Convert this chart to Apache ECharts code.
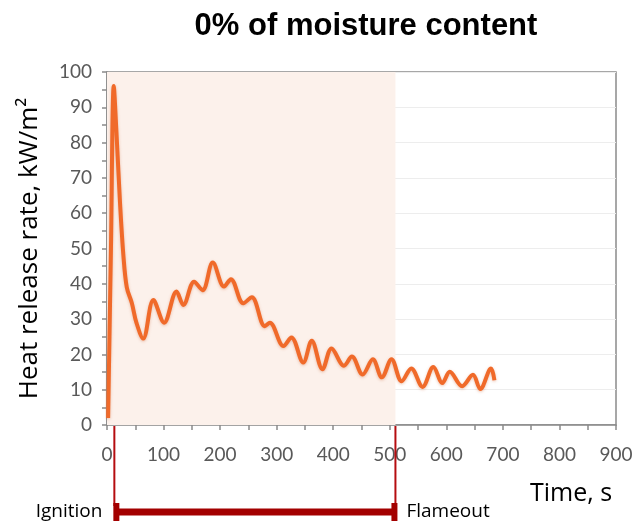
<!DOCTYPE html>
<html><head><meta charset="utf-8">
<script src="https://cdn.jsdelivr.net/npm/echarts@6/dist/echarts.min.js"></script>
<style>html,body{margin:0;padding:0;background:#fff}#c{width:636px;height:524px}</style>
</head><body><div id="c"></div>
<script>
// Data (time in s, HRR in kW/m2)
const timeS = [2, 7, 12, 17, 23, 29, 35, 44, 52, 64, 82, 101, 123, 135, 154, 169, 187, 207, 219, 241, 256, 279, 288, 312, 326, 347, 362, 381, 397, 419, 433, 452, 470, 486, 503, 521, 538, 558, 577, 593, 606, 628, 647, 660, 679, 685];
const hrr   = [2, 50, 96, 82, 63, 48, 39, 34.5, 29, 24.5, 35.4, 29, 37.8, 34, 40.6, 38.2, 46, 39.2, 41.3, 34.5, 36.2, 28, 29, 22.4, 24.8, 17.7, 23.9, 15.8, 21.7, 16.8, 19.4, 14.3, 18.6, 13.5, 18.6, 12.4, 16, 10.8, 16.4, 11.9, 15.1, 11, 14.2, 10.2, 16, 12.7];
const xTicks = [0, 100, 200, 300, 400, 500, 600, 700, 800, 900];
const yTicks = [0, 10, 20, 30, 40, 50, 60, 70, 80, 90, 100];
const ignitionTime = [13];
const flameoutTime = [510];

const chart = echarts.init(document.getElementById('c'));
const labelFont = 'Lato';
const axisGray = '#8a8a8a';
chart.setOption({
  animation: false,
  title: {
    text: '0% of moisture content', left: 361, top: 6, textAlign: 'center',
    textStyle: {fontFamily: 'Liberation Sans', fontWeight: 'bold', fontSize: 31, color: '#000'}
  },
  grid: {left: 107, right: 20, top: 72, bottom: 99, show: true, borderColor: axisGray, borderWidth: 1.5, backgroundColor: 'transparent'},
  xAxis: {
    type: 'value', min: xTicks[0], max: xTicks[xTicks.length - 1], interval: 100,
    axisLine: {show: true, lineStyle: {color: axisGray, width: 1.5}},
    axisTick: {show: true, length: 5, lineStyle: {color: axisGray, width: 1.5}},
    minorTick: {show: true, splitNumber: 2, length: 5, lineStyle: {color: axisGray, width: 1.5}},
    splitLine: {show: false},
    axisLabel: {color: '#595959', fontFamily: labelFont, fontSize: 19, margin: 20}
  },
  yAxis: {
    type: 'value', min: yTicks[0], max: yTicks[yTicks.length - 1], interval: 10,
    name: 'Heat release rate, kW/m²', nameLocation: 'middle', nameGap: 64,
    nameTextStyle: {fontFamily: 'Open Sans', fontSize: 26, color: '#000'},
    axisLine: {show: true, lineStyle: {color: axisGray, width: 1.5}},
    axisTick: {show: true, length: 5, lineStyle: {color: axisGray, width: 1.5}},
    minorTick: {show: true, splitNumber: 2, length: 5, lineStyle: {color: axisGray, width: 1.5}},
    splitLine: {show: true, lineStyle: {color: '#ededed', width: 1}},
    axisLabel: {color: '#595959', fontFamily: labelFont, fontSize: 19, margin: 15}
  },
  series: [{
    type: 'line', data: timeS.map((t, i) => [t, hrr[i]]),
    smooth: 0.35, showSymbol: false,
    lineStyle: {color: '#f06a2a', width: 4, shadowColor: 'rgba(200,90,40,0.35)', shadowBlur: 3, shadowOffsetY: 1},
    markArea: {silent: true, itemStyle: {color: '#fcf1eb'}, data: [[{xAxis: 0}, {xAxis: flameoutTime[0]}]]},
    z: 3
  }]
});

function drawAnnotations() {
  const xi = chart.convertToPixel({xAxisIndex: 0}, ignitionTime[0]);
  const xf = chart.convertToPixel({xAxisIndex: 0}, flameoutTime[0]);
  const y0 = chart.convertToPixel({yAxisIndex: 0}, 0);
  const barY = 512;
  const red = '#b50d10';
  const dark = '#a30000';
  chart.setOption({graphic: [
    {type: 'line', shape: {x1: xi, y1: y0 + 1, x2: xi, y2: barY - 6}, style: {stroke: red, lineWidth: 2}, z: 10},
    {type: 'line', shape: {x1: xf, y1: y0 + 1, x2: xf, y2: barY - 6}, style: {stroke: red, lineWidth: 2}, z: 10},
    {type: 'rect', shape: {x: xi, y: barY - 3.5, width: xf - xi, height: 7}, style: {fill: dark}, z: 10},
    {type: 'rect', shape: {x: xi - 1, y: barY - 9, width: 6, height: 18}, style: {fill: dark}, z: 10},
    {type: 'rect', shape: {x: xf - 4, y: barY - 9, width: 6, height: 18}, style: {fill: dark}, z: 10},
    {type: 'text', x: xi - 12, y: barY, style: {text: 'Ignition', fontFamily: 'Open Sans', fontSize: 19, fill: '#000', align: 'right', verticalAlign: 'middle'}, z: 10},
    {type: 'text', x: xf + 11, y: barY, style: {text: 'Flameout', fontFamily: 'Open Sans', fontSize: 19, fill: '#000', align: 'left', verticalAlign: 'middle'}, z: 10},
    {type: 'text', x: 571, y: 494, style: {text: 'Time, s', fontFamily: 'Open Sans', fontSize: 25, fill: '#000', align: 'center', verticalAlign: 'middle'}, z: 10}
  ]});
}
drawAnnotations();
</script>
</body></html>
